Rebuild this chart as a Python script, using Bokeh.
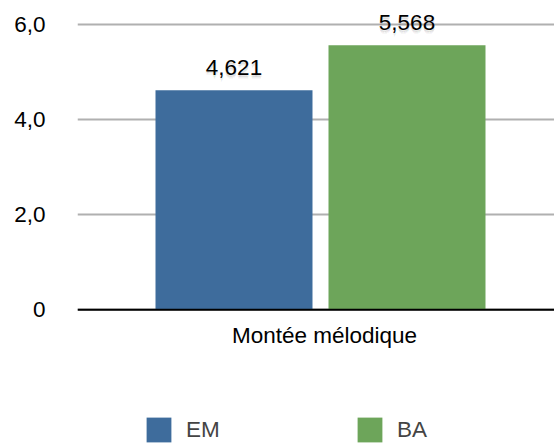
from bokeh.plotting import figure
from bokeh.models import ColumnDataSource, Range1d, FixedTicker, Span, Legend, LegendItem
from bokeh.core.properties import value
from bokeh.embed import file_html
from bokeh.resources import INLINE

# ---- data ----
category = "Montée mélodique"
series = ["EM", "BA"]
values = [4.621, 5.568]
colors = ["#3e6c9c", "#6da55a"]
y_ticks = [0, 2, 4, 6]
y_tick_labels = ["0", "2,0", "4,0", "6,0"]

FONT = "Liberation Sans"
FS = "22.5px"

xs = list(range(len(series)))
labels = [f"{v:.3f}".replace(".", ",") for v in values]
src = ColumnDataSource(dict(x=xs, top=values, color=colors, series=series, label=labels))

p = figure(width=554, height=443, output_backend="svg", toolbar_location=None,
           x_range=Range1d(-0.9046, 1.8526), y_range=Range1d(-2.815, 6.512),
           x_axis_location=None, min_border_left=77, min_border_right=0,
           min_border_top=0, min_border_bottom=0)
p.outline_line_color = None
p.background_fill_color = "white"
p.border_fill_color = "white"
p.xgrid.visible = False

ticker = FixedTicker(ticks=y_ticks, minor_ticks=[])
p.yaxis.ticker = ticker
p.yaxis.major_label_overrides = {t: l for t, l in zip(y_ticks, y_tick_labels)}
p.yaxis.axis_line_color = None
p.yaxis.major_tick_line_color = None
p.yaxis.minor_tick_line_color = None
p.yaxis.major_tick_out = 0
p.yaxis.major_tick_in = 0
p.yaxis.major_label_standoff = 32
p.yaxis.major_label_text_font = FONT
p.yaxis.major_label_text_font_size = FS
p.yaxis.major_label_text_color = "black"

p.ygrid.ticker = ticker
p.ygrid.grid_line_color = "#b0b0b0"
p.ygrid.grid_line_width = 2

bars = p.vbar(x="x", top="top", bottom=0, width=0.9075, fill_color="color",
              line_color=None, source=src)

p.add_layout(Span(location=0, dimension="width", line_color="black", line_width=2))

# soft shadow for value labels
LBL_OFF = -23
for dx, dy in [(0, 2), (0, 3), (-1, 2.5), (1, 2.5), (0, 4)]:
    p.text(x="x", y="top", text="label", source=src, x_offset=dx, y_offset=LBL_OFF + dy,
           text_align="center", text_baseline="middle", text_font=value(FONT),
           text_font_size=FS, text_color="black", text_alpha=0.05)
p.text(x="x", y="top", text="label", source=src, y_offset=LBL_OFF,
       text_align="center", text_baseline="middle", text_font=value(FONT),
       text_font_size=FS, text_color="black")

p.text(x=[sum(xs) / len(xs)], y=[0], text=[category], x_offset=4, y_offset=26,
       text_align="center", text_baseline="middle", text_font=value(FONT),
       text_font_size=FS, text_color="black")

legend = Legend(items=[LegendItem(label=s, renderers=[bars], index=i) for i, s in enumerate(series)],
                location=(66, -2), orientation="horizontal",
                glyph_width=31, glyph_height=31, label_standoff=12, label_width=40,
                spacing=128, padding=0, margin=0, border_line_color=None,
                background_fill_alpha=0, label_text_font=FONT, label_text_font_size=FS,
                label_height=25)
p.add_layout(legend)

open("out.html", "w").write(file_html(p, INLINE))
